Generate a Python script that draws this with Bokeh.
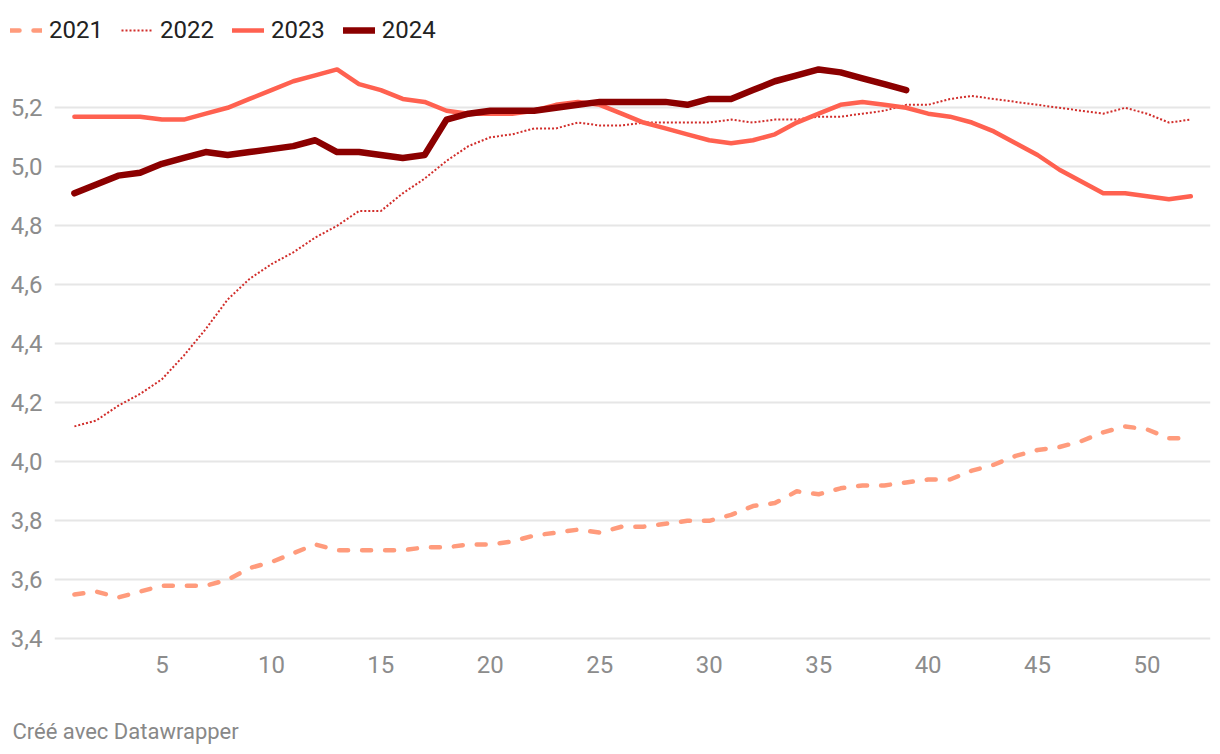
from bokeh.plotting import figure
from bokeh.models import Range1d, FixedTicker, Legend, LegendItem, Label
from bokeh.embed import file_html
from bokeh.resources import INLINE

weeks_2021 = list(range(1, 53))
vals_2021 = [3.55, 3.56, 3.54, 3.56, 3.58, 3.58, 3.58, 3.60, 3.64, 3.66,
             3.69, 3.72, 3.70, 3.70, 3.70, 3.70, 3.71, 3.71, 3.72, 3.72,
             3.73, 3.75, 3.76, 3.77, 3.76, 3.78, 3.78, 3.79, 3.80, 3.80,
             3.82, 3.85, 3.86, 3.90, 3.89, 3.91, 3.92, 3.92, 3.93, 3.94,
             3.94, 3.97, 3.99, 4.02, 4.04, 4.05, 4.07, 4.10, 4.12, 4.11,
             4.08, 4.08]

weeks_2022 = list(range(1, 53))
vals_2022 = [4.12, 4.14, 4.19, 4.23, 4.28, 4.36, 4.45, 4.55, 4.62, 4.67,
             4.71, 4.76, 4.80, 4.85, 4.85, 4.91, 4.96, 5.02, 5.07, 5.10,
             5.11, 5.13, 5.13, 5.15, 5.14, 5.14, 5.15, 5.15, 5.15, 5.15,
             5.16, 5.15, 5.16, 5.16, 5.17, 5.17, 5.18, 5.19, 5.21, 5.21,
             5.23, 5.24, 5.23, 5.22, 5.21, 5.20, 5.19, 5.18, 5.20, 5.18,
             5.15, 5.16]

weeks_2023 = list(range(1, 53))
vals_2023 = [5.17, 5.17, 5.17, 5.17, 5.16, 5.16, 5.18, 5.20, 5.23, 5.26,
             5.29, 5.31, 5.33, 5.28, 5.26, 5.23, 5.22, 5.19, 5.18, 5.18,
             5.18, 5.19, 5.21, 5.22, 5.21, 5.18, 5.15, 5.13, 5.11, 5.09,
             5.08, 5.09, 5.11, 5.15, 5.18, 5.21, 5.22, 5.21, 5.20, 5.18,
             5.17, 5.15, 5.12, 5.08, 5.04, 4.99, 4.95, 4.91, 4.91, 4.90,
             4.89, 4.90]

weeks_2024 = list(range(1, 40))
vals_2024 = [4.91, 4.94, 4.97, 4.98, 5.01, 5.03, 5.05, 5.04, 5.05, 5.06,
             5.07, 5.09, 5.05, 5.05, 5.04, 5.03, 5.04, 5.16, 5.18, 5.19,
             5.19, 5.19, 5.20, 5.21, 5.22, 5.22, 5.22, 5.22, 5.21, 5.23,
             5.23, 5.26, 5.29, 5.31, 5.33, 5.32, 5.30, 5.28, 5.26]

series_names = ["2021", "2022", "2023", "2024"]
y_ticks = [3.4, 3.6, 3.8, 4.0, 4.2, 4.4, 4.6, 4.8, 5.0, 5.2]
y_tick_labels = ["3,4", "3,6", "3,8", "4,0", "4,2", "4,4", "4,6", "4,8", "5,0", "5,2"]
x_ticks = [5, 10, 15, 20, 25, 30, 35, 40, 45, 50]
footer_text = "Créé avec Datawrapper"

FONT = "Roboto"

all_weeks = [weeks_2021, weeks_2022, weeks_2023, weeks_2024]
all_vals = [vals_2021, vals_2022, vals_2023, vals_2024]
styles = [
    dict(line_color="#ff9b7c", line_width=4.5, line_dash="9 14", line_cap="round", line_join="round"),
    dict(line_color="#d12d2a", line_width=2, line_dash="2 2", line_join="round"),
    dict(line_color="#ff6150", line_width=4.5, line_cap="round", line_join="round"),
    dict(line_color="#8b0000", line_width=6.5, line_cap="round", line_join="round"),
]


def strip(height):
    f = figure(width=1212, height=height, output_backend="svg", toolbar_location=None,
               x_axis_type=None, y_axis_type=None,
               x_range=Range1d(0, 1), y_range=Range1d(0, 1),
               min_border_left=0, min_border_right=0, min_border_top=0, min_border_bottom=0)
    f.outline_line_color = None
    f.xgrid.visible = False
    f.ygrid.visible = False
    return f


# ---- legend strip (top); its series lie outside its range, only the legend shows ----
top = strip(48)
leg_renderers = [top.line(wk, vals, **st) for wk, vals, st in zip(all_weeks, all_vals, styles)]
legend = Legend(items=[LegendItem(label=n, renderers=[r]) for n, r in
                       zip(series_names, leg_renderers)],
                orientation="horizontal", location=(10, 4),
                padding=0, margin=0, spacing=18, glyph_width=32, glyph_height=20,
                label_standoff=7, label_text_font=FONT, label_text_font_size="24px",
                label_text_color="#222222", background_fill_alpha=0,
                border_line_color=None)
top.add_layout(legend)

# ---- main chart ----
p = figure(width=1212, height=642, output_backend="svg", toolbar_location=None,
           x_range=Range1d(0.091, 52.90), y_range=Range1d(3.3773, 5.401),
           min_border_left=54, min_border_right=2, min_border_top=0,
           min_border_bottom=45)
p.outline_line_color = None

p.yaxis.ticker = FixedTicker(ticks=y_ticks)
p.yaxis.major_label_overrides = {t: l for t, l in zip(y_ticks, y_tick_labels)}
p.xaxis.ticker = FixedTicker(ticks=x_ticks)
for ax in (p.xaxis, p.yaxis):
    ax.axis_line_color = None
    ax.major_tick_line_color = None
    ax.minor_tick_line_color = None
    ax.major_tick_out = 0
    ax.major_tick_in = 0
    ax.major_label_text_font = FONT
    ax.major_label_text_font_size = "24px"
    ax.major_label_text_color = "#8c8c8c"
p.yaxis.major_label_standoff = 12
p.xaxis.major_label_standoff = 10

p.xgrid.grid_line_color = None
p.ygrid.ticker = FixedTicker(ticks=y_ticks)
p.ygrid.grid_line_color = "#e6e6e6"
p.ygrid.grid_line_width = 2

for wk, vals, st in zip(all_weeks, all_vals, styles):
    p.line(wk, vals, **st)

# ---- footer strip ----
bottom = strip(56)
bottom.add_layout(Label(x=12, y=15, x_units="screen", y_units="screen", text=footer_text,
                        text_font=FONT, text_font_size="22px", text_color="#888888",
                        text_baseline="middle"))

open("out.html", "w").write(file_html([top, p, bottom], INLINE))
